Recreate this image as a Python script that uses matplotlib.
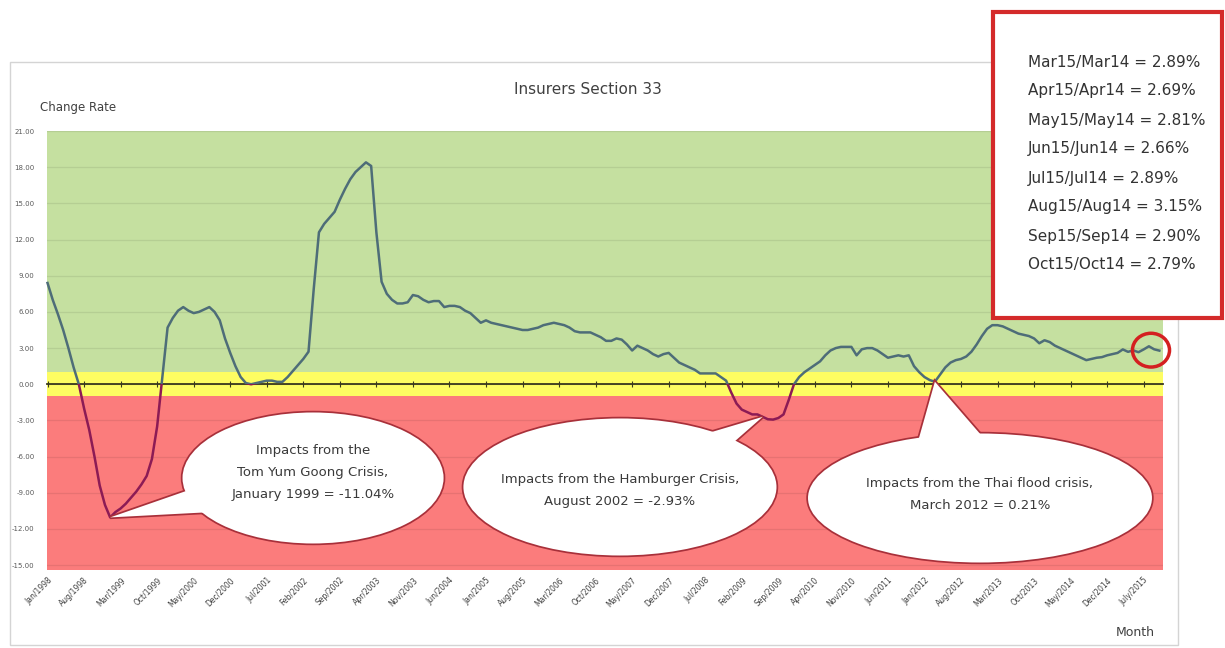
import numpy as np
import matplotlib
matplotlib.use('Agg')
import matplotlib.pyplot as plt
from matplotlib.patches import Rectangle, Ellipse, Polygon

# monthly change rate (%), Jan 1998 .. Oct 2015
rate_1998 = [8.4, 7.0, 5.8, 4.5, 3.0, 1.4, 0.0, -2.0, -3.8, -6.0, -8.4, -10.0]
rate_1999 = [-11.04, -10.6, -10.3, -9.9, -9.4, -8.9, -8.3, -7.6, -6.2, -3.5, 0.6, 4.7]
rate_2000 = [5.5, 6.1, 6.4, 6.1, 5.9, 6.0, 6.2, 6.4, 6.0, 5.3, 3.8, 2.6]
rate_2001 = [1.5, 0.6, 0.1, 0.0, 0.1, 0.2, 0.3, 0.3, 0.2, 0.2, 0.6, 1.1]
rate_2002 = [1.6, 2.1, 2.7, 7.9, 12.6, 13.3, 13.8, 14.3, 15.3, 16.2, 17.0, 17.6]
rate_2003 = [18.0, 18.4, 18.1, 12.6, 8.5, 7.5, 7.0, 6.7, 6.7, 6.8, 7.4, 7.3]
rate_2004 = [7.0, 6.8, 6.9, 6.9, 6.4, 6.5, 6.5, 6.4, 6.1, 5.9, 5.5, 5.1]
rate_2005 = [5.3, 5.1, 5.0, 4.9, 4.8, 4.7, 4.6, 4.5, 4.5, 4.6, 4.7, 4.9]
rate_2006 = [5.0, 5.1, 5.0, 4.9, 4.7, 4.4, 4.3, 4.3, 4.3, 4.1, 3.9, 3.6]
rate_2007 = [3.6, 3.8, 3.7, 3.3, 2.8, 3.2, 3.0, 2.8, 2.5, 2.3, 2.5, 2.6]
rate_2008 = [2.2, 1.8, 1.6, 1.4, 1.2, 0.9, 0.9, 0.9, 0.9, 0.6, 0.3, -0.7]
rate_2009 = [-1.6, -2.1, -2.3, -2.5, -2.5, -2.7, -2.9, -2.93, -2.8, -2.5, -1.3, 0.0]
rate_2010 = [0.6, 1.0, 1.3, 1.6, 1.9, 2.4, 2.8, 3.0, 3.1, 3.1, 3.1, 2.4]
rate_2011 = [2.9, 3.0, 3.0, 2.8, 2.5, 2.2, 2.3, 2.4, 2.3, 2.4, 1.5, 1.0]
rate_2012 = [0.6, 0.35, 0.21, 0.8, 1.4, 1.8, 2.0, 2.1, 2.3, 2.7, 3.3, 4.0]
rate_2013 = [4.6, 4.9, 4.9, 4.8, 4.6, 4.4, 4.2, 4.1, 4.0, 3.8, 3.4, 3.65]
rate_2014 = [3.5, 3.2, 3.0, 2.8, 2.6, 2.4, 2.2, 2.0, 2.1, 2.2, 2.25, 2.4]
rate_2015 = [2.5, 2.6, 2.89, 2.69, 2.81, 2.66, 2.89, 3.15, 2.90, 2.79]

change_rate = np.array(rate_1998 + rate_1999 + rate_2000 + rate_2001 + rate_2002
                       + rate_2003 + rate_2004 + rate_2005 + rate_2006 + rate_2007
                       + rate_2008 + rate_2009 + rate_2010 + rate_2011 + rate_2012
                       + rate_2013 + rate_2014 + rate_2015)

month_labels = ['Jan/1998', 'Aug/1998', 'Mar/1999', 'Oct/1999', 'May/2000', 'Dec/2000',
                'Jul/2001', 'Feb/2002', 'Sep/2002', 'Apr/2003', 'Nov/2003', 'Jun/2004',
                'Jan/2005', 'Aug/2005', 'Mar/2006', 'Oct/2006', 'May/2007', 'Dec/2007',
                'Jul/2008', 'Feb/2009', 'Sep/2009', 'Apr/2010', 'Nov/2010', 'Jun/2011',
                'Jan/2012', 'Aug/2012', 'Mar/2013', 'Oct/2013', 'May/2014', 'Dec/2014',
                'July/2015']
label_step = 7

y_ticks = [21, 18, 15, 12, 9, 6, 3, 0, -3, -6, -9, -12, -15]
band_top, band_hi, band_lo, band_bottom = 21, 1, -1, -15.4

box_lines = ['Mar15/Mar14 = 2.89%', 'Apr15/Apr14 = 2.69%', 'May15/May14 = 2.81%',
             'Jun15/Jun14 = 2.66%', 'Jul15/Jul14 = 2.89%', 'Aug15/Aug14 = 3.15%',
             'Sep15/Sep14 = 2.90%', 'Oct15/Oct14 = 2.79%']

# (index of month the bubble points at, text)
crises = [(12, 'Impacts from the\nTom Yum Goong Crisis,\nJanuary 1999 = -11.04%'),
          (137, 'Impacts from the Hamburger Crisis,\nAugust 2002 = -2.93%'),
          (170, 'Impacts from the Thai flood crisis,\nMarch 2012 = 0.21%')]

W, H = 1225, 648
fig = plt.figure(figsize=(W / 100, H / 100), dpi=100)
fig.patch.set_facecolor('white')

# outer chart frame
fig.add_artist(Rectangle((10 / W, 3 / H), 1168 / W, 583 / H, transform=fig.transFigure,
                         fill=False, ec='#d4d4d4', lw=1, zorder=0))

ax = fig.add_axes([47 / W, 78 / H, 1116 / W, 439 / H])
x = np.arange(len(change_rate))

ax.axhspan(band_hi, band_top, color='#c5e0a0', lw=0, zorder=0)
ax.axhspan(band_lo, band_hi, color='#fdfd62', lw=0, zorder=0)
ax.axhspan(band_bottom, band_lo, color='#fb7c7c', lw=0, zorder=0)

ax.set_xlim(-0.1, 213.7)
ax.set_ylim(band_bottom, band_top)
ax.set_yticks(y_ticks)
ax.set_yticklabels([f'{v:.2f}' for v in y_ticks], fontsize=5, color='#595959')
ax.yaxis.grid(True, color='black', alpha=0.08, lw=0.9)
ax.tick_params(axis='y', length=0, pad=9)

ax.set_xticks(x[::label_step])
ax.set_xticklabels(month_labels, rotation=45, ha='right', rotation_mode='anchor',
                   fontsize=5.5, color='#404040')
ax.tick_params(axis='x', length=0, pad=4)
for s in ax.spines.values():
    s.set_visible(False)

# horizontal axis line at zero with its tick marks
sec = ax.secondary_xaxis(0, transform=ax.transData)
sec.set_xticks(x[::label_step])
sec.set_xticklabels([])
sec.tick_params(direction='inout', length=5, width=0.8, color='#3a3a20')
for s in sec.spines.values():
    s.set_color('#3a3a20')
    s.set_linewidth(1.3)

# line: slate above zero, dark magenta below
above = Rectangle((-5, 0), 300, 40, transform=ax.transData)
below = Rectangle((-5, -40), 300, 40, transform=ax.transData)
l1, = ax.plot(x, change_rate, color='#4e6d78', lw=1.8, zorder=3)
l1.set_clip_path(above)
l2, = ax.plot(x, change_rate, color='#8c1b55', lw=1.8, zorder=3)
l2.set_clip_path(below)

# red circle around the latest months
ax.add_patch(Ellipse((x[-5:].mean() + 0.4, change_rate[-5:].mean() - 0.05), 7.1, 2.8,
                     fill=False, ec='#d42020', lw=2.5, zorder=6, clip_on=False))

# speech bubbles: ellipse (axes fraction) + wedge from two angles on it to the data point
bubbles = [((0.2384, 0.2096), (0.2339, 0.2984), (189, 215), 0.2232),
           ((0.5134, 0.1891), (0.2805, 0.3121), (56, 40), 0.1822),
           ((0.8360, 0.1640), (0.3082, 0.2938), (114, 88), 0.1731)]
edge = '#a8303a'
for (idx, txt), (c, (w, h), angs, ty) in zip(crises, bubbles):
    tip = ax.transAxes.inverted().transform(ax.transData.transform((x[idx], change_rate[idx])))
    base = [(c[0] + 0.45 * w * np.cos(np.radians(a)), c[1] + 0.45 * h * np.sin(np.radians(a)))
            for a in angs]
    verts = [base[0], tuple(tip), base[1]]
    for filled_only, z in ((False, 7), (True, 8)):
        ec = 'none' if filled_only else edge
        ax.add_patch(Polygon(verts, closed=True, transform=ax.transAxes, fc='white',
                             ec=ec, lw=2.5, zorder=z, clip_on=False))
        ax.add_patch(Ellipse(c, w, h, transform=ax.transAxes, fc='white',
                             ec=ec, lw=2.5, zorder=z, clip_on=False))
    ax.text(c[0], ty, txt, transform=ax.transAxes, ha='center', va='center',
            fontsize=9.5, color='#3a3a3a', linespacing=1.9, zorder=9)

fig.text(588 / W, 1 - 90 / H, 'Insurers Section 33', ha='center', va='center',
         fontsize=11, color='#404040')
fig.text(40 / W, 1 - 108 / H, 'Change Rate', ha='left', va='center',
         fontsize=8.5, color='#404040')
fig.text(1155 / W, 1 - 632 / H, 'Month', ha='right', va='center',
         fontsize=9, color='#404040')

# red summary box
fig.add_artist(Rectangle((993 / W, 1 - 318 / H), 229 / W, 306 / H, transform=fig.transFigure,
                         fc='white', ec='#d42a2a', lw=3, zorder=10))
for i, line in enumerate(box_lines):
    fig.text(1028 / W, 1 - (62 + 29 * i) / H, line, ha='left', va='center',
             fontsize=11, color='#333333', zorder=11)

fig.savefig('out.png', dpi=100)
